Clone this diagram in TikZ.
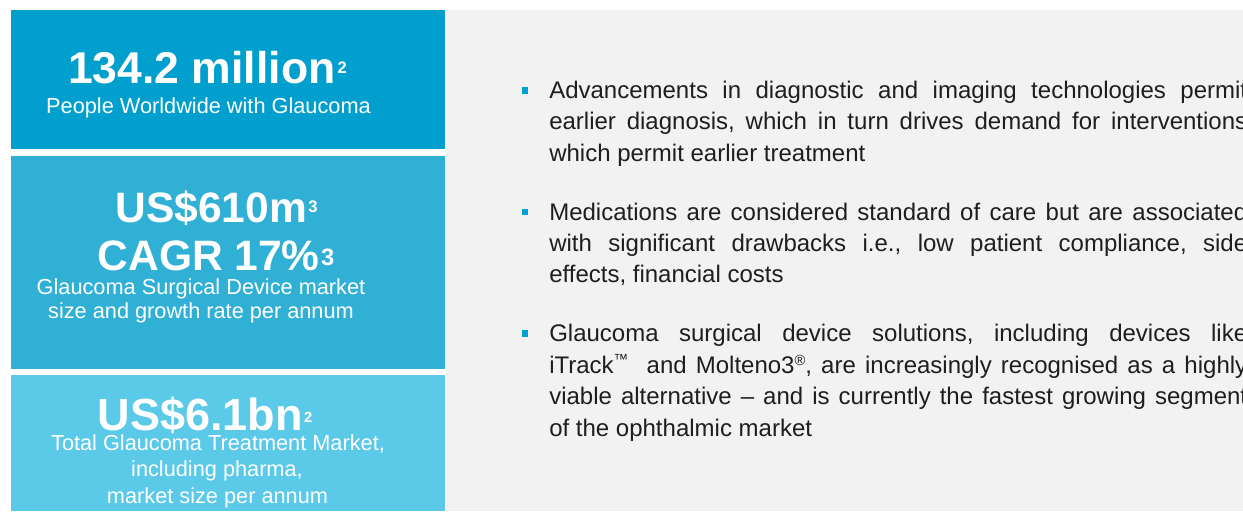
\documentclass[tikz,border=0pt]{standalone}
\usepackage{fontspec}
\setmainfont{Liberation Sans}
\definecolor{boxA}{HTML}{009FCE}
\definecolor{boxB}{HTML}{31B0D6}
\definecolor{boxC}{HTML}{5BC9E8}
\definecolor{panel}{HTML}{F2F2F2}
\definecolor{bodytext}{HTML}{1E1E1E}
\definecolor{bulletc}{HTML}{00A0D2}
\newcommand\mysup[3]{\raisebox{#1pt}{\fontsize{#2}{#2}\selectfont #3}}
\tikzset{
  boxfill/.style={fill=#1, draw=none},
  bigtxt/.style={text=white, inner sep=0pt, anchor=base, font=\bfseries\fontsize{#1}{#1}\selectfont},
  subtxt/.style={text=white, inner sep=0pt, anchor=base, font=\fontsize{16.3}{16.3}\selectfont},
  bodyline/.style={text=bodytext, inner sep=0pt, anchor=base west, font=\fontsize{18}{18}\selectfont\frenchspacing},
  bulletbox/.style={fill=bulletc, draw=none, minimum size=4.9pt, inner sep=0pt, shape=rectangle},
}
\newcommand\jline[1]{\makebox[523.5pt][s]{#1}}
\begin{document}
\begin{tikzpicture}[x=0.75pt,y=-0.75pt]
\useasboundingbox (0,0) rectangle (1243,511);
\clip (0,0) rectangle (1243,511);
\fill[white] (0,0) rectangle (1243,511);
\fill[panel] (446,10) rectangle (1243,511);
\fill[boxfill=boxA] (11,10) rectangle (445,148.5);
\fill[boxfill=boxB] (11,155.5) rectangle (445,369);
\fill[boxfill=boxC] (11,375) rectangle (445,511);

% Box 1
\node[bigtxt=33.4] (b1big) at (207.5,83) {134.2 million\kern1.5pt\mysup{6.9}{12.5}{2}};
\node[subtxt] (b1sub) at (208.5,113) {People Worldwide with Glaucoma};

% Box 2
\node[bigtxt=31.9] (b2big) at (216.5,222) {US\$610m\kern1pt\mysup{6.9}{12.5}{3}};
\node[bigtxt=31.9] (b2cagr) at (216,270) {CAGR 17\%\kern1pt\mysup{3.75}{17.8}{3}};
\node[subtxt] (b2suba) at (201,294.5) {Glaucoma Surgical Device market};
\node[subtxt] (b2subb) at (201,318.5) {size and growth rate per annum};

% Box 3
\node[bigtxt=33.75] (b3big) at (205,430) {US\$6.1bn\kern1pt\mysup{6}{11}{2}};
\node[subtxt] (b3suba) at (218,450) {Total Glaucoma Treatment Market,};
\node[subtxt] (b3subb) at (217,476.5) {including pharma,};
\node[subtxt] (b3subc) at (217.5,503) {market size per annum};

% Bullets
\node[bulletbox] (bul1) at (525,90.3) {};
\node[bulletbox] (bul2) at (525,211.8) {};
\node[bulletbox] (bul3) at (525,333.3) {};

% Bullet 1
\node[bodyline] (p1a) at (549,98) {\jline{Advancements in diagnostic and imaging technologies permit}};
\node[bodyline] (p1b) at (549,129.5) {\jline{earlier diagnosis, which in turn drives demand for interventions}};
\node[bodyline] (p1c) at (549,161) {which permit earlier treatment};

% Bullet 2
\node[bodyline] (p2a) at (549,220) {\jline{Medications are considered standard of care but are associated}};
\node[bodyline] (p2b) at (549,251.5) {\jline{with significant drawbacks i.e., low patient compliance, side}};
\node[bodyline] (p2c) at (549,282.5) {effects, financial costs};

% Bullet 3
\node[bodyline] (p3a) at (549,341.5) {\jline{Glaucoma surgical device solutions, including devices like}};
\node[bodyline] (p3b) at (549,373) {\jline{iTrack\mysup{6.5}{11}{™}\ \ and Molteno3\mysup{6}{11}{®}, are increasingly recognised as a highly}};
\node[bodyline] (p3c) at (549,404.5) {\jline{viable alternative – and is currently the fastest growing segment}};
\node[bodyline] (p3d) at (549,436) {of the ophthalmic market};
\end{tikzpicture}
\end{document}
